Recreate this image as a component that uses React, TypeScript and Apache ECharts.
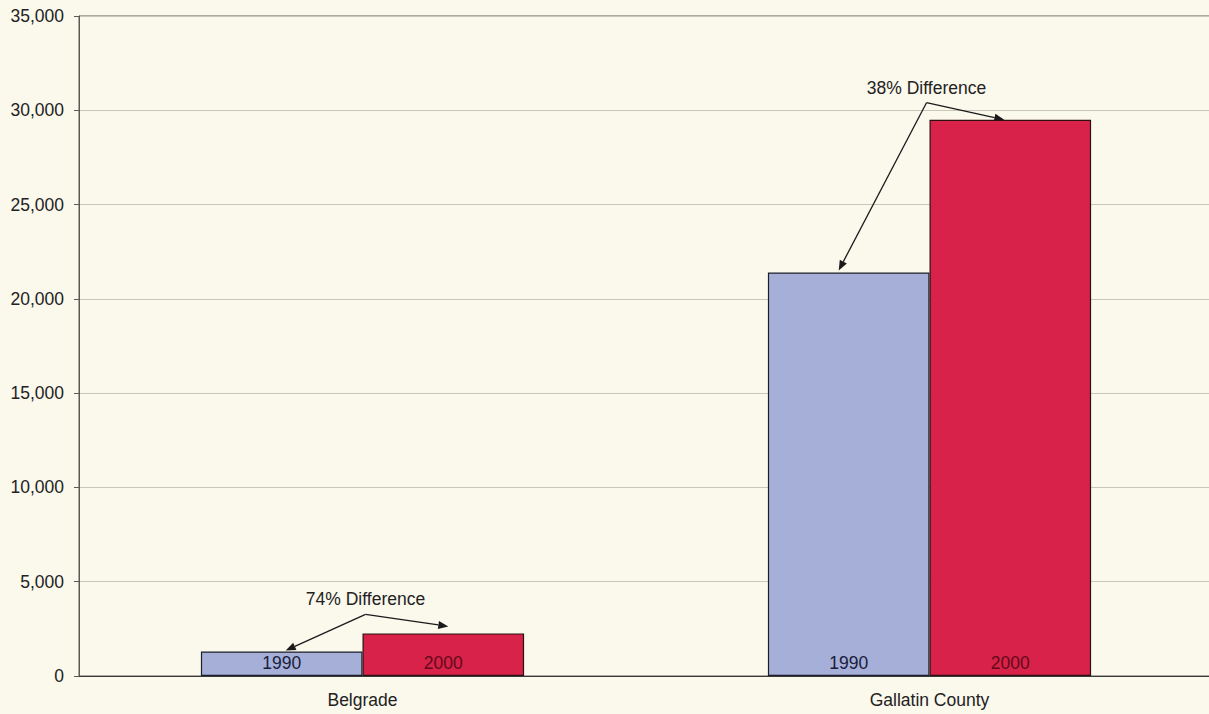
import React, { useEffect, useRef } from "react";
import * as echarts from "echarts";

const categories = ["Belgrade", "Gallatin County"];
const seriesNames = ["1990", "2000"];
const values1990 = [1300, 21400];
const values2000 = [2260, 29500];
const annotationTexts = ["74% Difference", "38% Difference"];
const yMin = 0;
const yMax = 35000;
const yInterval = 5000;

// pixel offsets for annotation arrows (layout only)
const arrowLayout = [
  { vx: 3, vy: -19, t1x: 4, t1y: -1, t2x: 5, t2y: -7 },
  { vx: -3, vy: -17, t1x: -10, t1y: -2, t2x: -6, t2y: 0 },
];

const FONT = "'Liberation Sans', Arial, sans-serif";
const BG = "#fbf8ec";
const FS = 17.5;

function arrow(x0: number, y0: number, x1: number, y1: number) {
  const dx = x1 - x0;
  const dy = y1 - y0;
  const len = Math.sqrt(dx * dx + dy * dy);
  const ux = dx / len;
  const uy = dy / len;
  const hl = 10;
  const hw = 4;
  const bx = x1 - ux * hl;
  const by = y1 - uy * hl;
  return [
    {
      type: "line",
      silent: true,
      shape: { x1: x0, y1: y0, x2: bx, y2: by },
      style: { stroke: "#1a1a1a", lineWidth: 1.3 },
    },
    {
      type: "polygon",
      silent: true,
      shape: {
        points: [
          [x1, y1],
          [bx - uy * hw, by + ux * hw],
          [bx + uy * hw, by - ux * hw],
        ],
      },
      style: { fill: "#1a1a1a" },
    },
  ];
}

export default function App() {
  const ref = useRef<HTMLDivElement>(null);
  useEffect(() => {
    const el = ref.current!;
    const chart = echarts.init(el, undefined, { renderer: "svg" });
    const labelStyle = { fontFamily: FONT, fontSize: FS, color: "#222" };
    chart.setOption({
      animation: false,
      backgroundColor: BG,
      textStyle: { fontFamily: FONT },
      grid: {
        left: 79,
        right: 0,
        top: 16,
        bottom: 38,
        show: true,
        borderColor: "#5a5a55",
        borderWidth: 1,
        backgroundColor: "transparent",
      },
      xAxis: {
        type: "category",
        data: categories,
        axisLine: { show: true, lineStyle: { color: "#3a3a3a", width: 1 } },
        axisTick: { show: false },
        axisLabel: { ...labelStyle, margin: 15 },
      },
      yAxis: {
        type: "value",
        min: yMin,
        max: yMax,
        interval: yInterval,
        axisLine: { show: true, lineStyle: { color: "#5a5a55", width: 1 } },
        axisTick: { show: true, length: 5, lineStyle: { color: "#5a5a55" } },
        axisLabel: {
          ...labelStyle,
          margin: 15,
          formatter: (v: number) => v.toLocaleString("en-US"),
        },
        splitLine: { show: true, lineStyle: { color: "#c9c6bb", width: 1 } },
      },
      series: [
        {
          name: seriesNames[0],
          type: "bar",
          data: values1990,
          barGap: "0%",
          barCategoryGap: "43%",
          itemStyle: { color: "#a5afd8", borderColor: "#1e1e2a", borderWidth: 1.2 },
          label: {
            show: true,
            position: "insideBottom",
            distance: 4,
            formatter: () => seriesNames[0],
            fontFamily: FONT,
            fontSize: FS,
            color: "#1a1c3c",
          },
        },
        {
          name: seriesNames[1],
          type: "bar",
          data: values2000,
          itemStyle: { color: "#d8224a", borderColor: "#2a1010", borderWidth: 1.2 },
          label: {
            show: true,
            position: "insideBottom",
            distance: 4,
            formatter: () => seriesNames[1],
            fontFamily: FONT,
            fontSize: FS,
            color: "#640a18",
          },
        },
      ],
    });

    const cx0 = chart.convertToPixel({ xAxisIndex: 0 }, 0) as number;
    const cx1 = chart.convertToPixel({ xAxisIndex: 0 }, 1) as number;
    const band = cx1 - cx0;
    const bw = (band * (1 - 0.43)) / 2;
    const elements: any[] = [];
    categories.forEach((_, i) => {
      const cx = chart.convertToPixel({ xAxisIndex: 0 }, i) as number;
      const y1 = chart.convertToPixel({ yAxisIndex: 0 }, values1990[i]) as number;
      const y2 = chart.convertToPixel({ yAxisIndex: 0 }, values2000[i]) as number;
      const L = arrowLayout[i];
      const top = Math.min(y1, y2);
      const vx = cx + L.vx;
      const vy = top + L.vy;
      const c1 = cx - bw / 2;
      const c2 = cx + bw / 2;
      elements.push(...arrow(vx, vy, c1 + L.t1x, y1 + L.t1y));
      elements.push(...arrow(vx, vy, c2 + L.t2x, y2 + L.t2y));
      elements.push({
        type: "text",
        silent: true,
        x: vx,
        y: vy - 15,
        style: {
          text: annotationTexts[i],
          fontFamily: FONT,
          fontSize: FS,
          fill: "#222",
          align: "center",
          verticalAlign: "middle",
        },
      });
    });
    chart.setOption({ graphic: elements });

    return () => chart.dispose();
  }, []);
  return (
    <div
      ref={ref}
      style={{ position: "fixed", left: 0, top: 0, width: 1213, height: 714, background: BG }}
    />
  );
}
